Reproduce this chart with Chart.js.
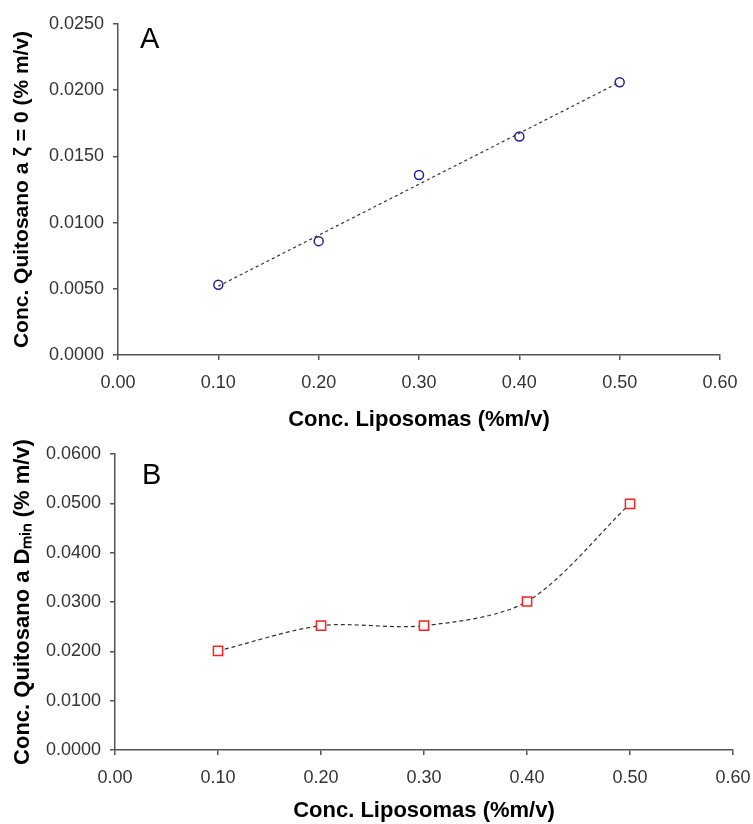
<!DOCTYPE html>
<html>
<head>
<meta charset="utf-8">
<script src="https://cdn.jsdelivr.net/npm/chart.js@4.4.1/dist/chart.umd.min.js"></script>
<style>
  body { margin: 0; background: #fff; }
  canvas { display: block; }
</style>
</head>
<body>
<canvas id="chartA" width="753" height="440"></canvas>
<canvas id="chartB" width="753" height="384"></canvas>
<script>
// data
const liposomas = [0.10, 0.20, 0.30, 0.40, 0.50];
const quitosanoZeta = [0.0053, 0.0086, 0.0136, 0.0165, 0.0206];
const trendX = [0.10, 0.50];
const trendY = [0.0052, 0.0206];
const quitosanoDmin = [0.0201, 0.0252, 0.0252, 0.0301, 0.0499];

const xTitle = 'Conc. Liposomas (%m/v)';
const yTitleA = 'Conc. Quitosano a ζ = 0 (% m/v)';
const yTitleB = 'Conc. Quitosano a Dₘᵢₙ (% m/v)';

const FONT = '"Liberation Sans", Arial, sans-serif';
const axisColor = '#555';

const toXY = (xs, ys) => xs.map((x, i) => ({ x: x, y: ys[i] }));

// panel letter (A / B) in the upper left of the plot area
const panelLetter = {
  id: 'panelLetter',
  afterDraw(chart, args, opts) {
    const { ctx, chartArea } = chart;
    ctx.save();
    ctx.font = '29px ' + FONT;
    ctx.fillStyle = '#000';
    ctx.textBaseline = 'alphabetic';
    ctx.fillText(opts.text, chartArea.left + opts.dx, chartArea.top + opts.dy);
    ctx.restore();
  }
};

function makeOptions(cfg) {
  return {
    responsive: false,
    animation: false,
    layout: { padding: { top: cfg.padTop, right: cfg.padRight, left: 0, bottom: 0 } },
    plugins: {
      legend: { display: false },
      tooltip: { enabled: false },
      panelLetter: { text: cfg.letter, dx: cfg.letterDx, dy: cfg.letterDy }
    },
    scales: {
      x: {
        type: 'linear',
        min: 0,
        max: 0.6,
        afterFit: s => { s.height = cfg.xHeight; s.paddingLeft = 0; s.paddingRight = 0; },
        ticks: {
          stepSize: 0.1,
          color: '#333',
          padding: 12,
          font: { family: FONT, size: 18 },
          callback: v => Number(v).toFixed(2)
        },
        grid: { drawOnChartArea: false, drawTicks: true, tickLength: 5, color: axisColor, lineWidth: 1.5 },
        border: { display: true, color: axisColor, width: 1.5 },
        title: {
          display: true,
          text: xTitle,
          color: '#000',
          font: { family: FONT, size: 22, weight: 'bold' },
          padding: { top: 0, bottom: cfg.xTitlePad }
        }
      },
      y: {
        min: 0,
        max: cfg.yMax,
        afterFit: s => { s.width = cfg.yWidth; s.paddingTop = 0; s.paddingBottom = 0; },
        ticks: {
          stepSize: cfg.yStep,
          color: '#333',
          padding: 9,
          font: { family: FONT, size: 18 },
          callback: v => Number(v).toFixed(4)
        },
        grid: { drawOnChartArea: false, drawTicks: true, tickLength: 5, color: axisColor, lineWidth: 1.5 },
        border: { display: true, color: axisColor, width: 1.5 },
        title: {
          display: true,
          text: cfg.yTitle,
          color: '#000',
          font: { family: FONT, size: cfg.yTitleSize, weight: 'bold' },
          padding: { top: 10, bottom: 0 }
        }
      }
    }
  };
}

// Panel A: linear trend through the zeta = 0 points
new Chart(document.getElementById('chartA').getContext('2d'), {
  type: 'scatter',
  data: {
    datasets: [
      {
        label: 'Tendencia',
        data: toXY(trendX, trendY),
        showLine: true,
        borderColor: '#333',
        borderWidth: 1.2,
        borderDash: [3, 3],
        pointRadius: 0,
        fill: false
      },
      {
        label: 'ζ = 0',
        data: toXY(liposomas, quitosanoZeta),
        pointStyle: 'circle',
        pointRadius: 4.5,
        pointBorderWidth: 1.5,
        pointBorderColor: '#1f1f9a',
        pointBackgroundColor: '#fff',
        showLine: false
      }
    ]
  },
  options: makeOptions({
    padTop: 24, padRight: 33, xHeight: 85, yWidth: 118,
    yMax: 0.025, yStep: 0.005, yTitle: yTitleA, yTitleSize: 21, xTitlePad: 7,
    letter: 'A', letterDx: 22, letterDy: 24
  }),
  plugins: [panelLetter]
});

// Panel B: smoothed dashed line through the D_min points
new Chart(document.getElementById('chartB').getContext('2d'), {
  type: 'scatter',
  data: {
    datasets: [
      {
        label: 'Dmin',
        data: toXY(liposomas, quitosanoDmin),
        showLine: true,
        tension: 0.3,
        borderColor: '#333',
        borderWidth: 1.2,
        borderDash: [4, 3],
        pointStyle: 'rect',
        pointRadius: 6.5,
        pointBorderWidth: 1.5,
        pointBorderColor: '#ff1f1f',
        pointBackgroundColor: '#fff',
        fill: false
      }
    ]
  },
  options: makeOptions({
    padTop: 14, padRight: 20, xHeight: 74, yWidth: 115,
    yMax: 0.06, yStep: 0.01, yTitle: yTitleB, yTitleSize: 22, xTitlePad: 0,
    letter: 'B', letterDx: 27, letterDy: 30
  }),
  plugins: [panelLetter]
});
</script>
</body>
</html>
